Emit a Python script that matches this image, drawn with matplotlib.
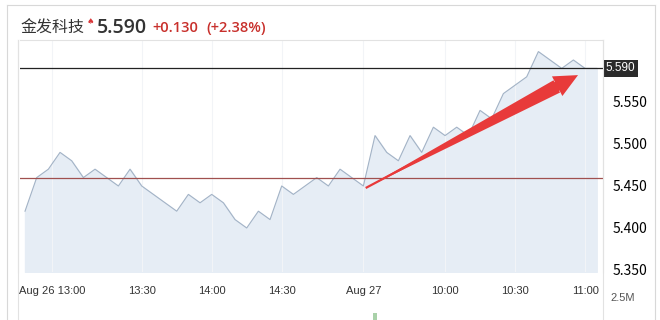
import numpy as np
import matplotlib.pyplot as plt
from matplotlib.lines import Line2D

plt.rcParams['font.family'] = ['Noto Sans CJK SC', 'DejaVu Sans']

# 5-minute prices, Aug 26 afternoon + Aug 27 morning
prices = [5.42, 5.46, 5.47, 5.49, 5.48, 5.46, 5.47, 5.46, 5.45, 5.47,
          5.45, 5.44, 5.43, 5.42, 5.44, 5.43, 5.44, 5.43, 5.41, 5.40,
          5.42, 5.41, 5.45, 5.44, 5.45, 5.46, 5.45, 5.47, 5.46, 5.45,
          5.51, 5.49, 5.48, 5.51, 5.49, 5.52, 5.51, 5.52, 5.51, 5.54,
          5.53, 5.56, 5.57, 5.58, 5.61, 5.60, 5.59, 5.60, 5.59, 5.59]
last_price = 5.590
prev_close = 5.460
tick_pos = [2.3, 10, 16, 22, 29, 36, 42, 48]
tick_labels = ['Aug 26 13:00', '13:30', '14:00', '14:30', 'Aug 27', '10:00', '10:30', '11:00']
y_ticks = [5.350, 5.400, 5.450, 5.500, 5.550]
vol_idx = [30]
vol_vals = [0.35]
arrow_start = (29.2, 5.4476)
arrow_end = (47.4, 5.582)

x = np.arange(len(prices))

fig = plt.figure(figsize=(6.6, 3.2), dpi=100)
W, H = 660, 320

ax = fig.add_axes([20 / W, 1 - 272 / H, 583 / W, 232 / H])
ax.set_xlim(-0.43, len(prices) - 1 + 0.54)
ax.set_ylim(5.3476, 5.6238)

ax.fill_between(x, prices, 5.3476, color='#e6edf5', zorder=1)
ax.plot(x, prices, color='#a3b3c6', lw=0.8, zorder=2)
ax.axhline(last_price, color='#222222', lw=0.9, zorder=3)
ax.axhline(prev_close, color='#a0504f', lw=0.9, zorder=3)

# tapered red arrow: thin line + wedge body + head
red = '#e83a3a'
sx, sy = arrow_start
ex, ey = arrow_end
hx, hy = ex - 0.1 * (ex - sx), ey - 0.1 * (ey - sy)
ax.plot([sx, hx], [sy, hy], color=red, lw=1.6, solid_capstyle='butt', zorder=5)
ax.annotate('', xy=(sx, sy), xytext=(hx, hy),
            arrowprops=dict(arrowstyle='wedge,tail_width=1.0,shrink_factor=0.5',
                            color=red, lw=0, shrinkA=0, shrinkB=0), zorder=5)
ax.annotate('', xy=(ex, ey), xytext=(hx + 0.3 * (hx - ex), hy + 0.3 * (hy - ey)),
            arrowprops=dict(arrowstyle='simple,head_length=0.85,head_width=0.8,tail_width=0.35',
                            mutation_scale=20, color=red, lw=0,
                            shrinkA=0, shrinkB=0), zorder=5)

ax.set_xticks(tick_pos)
ax.set_xticklabels(tick_labels, fontsize=8, color='#333333', family='Liberation Sans')
ax.tick_params(axis='x', length=0, pad=10)
ax.set_yticks(y_ticks)
ax.set_yticklabels(['%.3f' % v for v in y_ticks], fontsize=8.5, color='#555555',
                   family='Liberation Sans')
ax.yaxis.tick_right()
ax.tick_params(axis='y', length=0, pad=7)
ax.grid(axis='x', color='#f2f4f7', lw=0.8)
ax.spines['bottom'].set_visible(False)
for s in ['top', 'left', 'right']:
    ax.spines[s].set_color('#e2e2e2')
    ax.spines[s].set_linewidth(0.8)
ax.spines['left'].set_position(('axes', -0.003))

ax.annotate('%.3f' % last_price, xy=(1.0, last_price), xycoords=ax.get_yaxis_transform(),
            xytext=(2, 0), textcoords='offset points',
            fontsize=8.5, color='white', va='center', ha='left', family='Liberation Sans',
            bbox=dict(boxstyle='square,pad=0.2', fc='#2b2b2b', ec='none'), zorder=6)

# volume strip
vax = fig.add_axes([20 / W, 0, 583 / W, 22 / H])
vax.set_xlim(ax.get_xlim())
vax.set_ylim(0, 1.15)
vax.bar(vol_idx, vol_vals, width=0.3, color='#a9d1a9')
vax.set_xticks([])
vax.set_yticks([])
for s in vax.spines.values():
    s.set_visible(False)
fig.text(610 / W, 1 - 298 / H, '2.5M', fontsize=8, color='#555555', va='center',
         family='Liberation Sans')

# panel borders
for xp in [18, 603]:
    fig.add_artist(Line2D([xp / W, xp / W], [0, 1 - 40 / H], color='#e2e2e2', lw=0.8))
fig.add_artist(Line2D([7 / W, 7 / W], [0, 1 - 5 / H], color='#d8d8d8', lw=0.8))
fig.add_artist(Line2D([655 / W, 655 / W], [0, 1 - 5 / H], color='#d8d8d8', lw=0.8))
fig.add_artist(Line2D([7 / W, 655 / W], [1 - 5 / H, 1 - 5 / H], color='#d8d8d8', lw=0.8))

# header
ty = 1 - 28 / H
fig.text(20 / W, ty, '金发科技', fontsize=11.5, color='#333333', va='center')
fig.text(87 / W, 1 - 21 / H, '♠', fontsize=6, color='#d9383a', va='center',
         family='DejaVu Sans')
fig.text(97 / W, ty, '%.3f' % last_price, fontsize=14, color='#333333', va='center',
         family='Open Sans', fontweight='semibold')
fig.text(152 / W, ty, '+0.130', fontsize=10.5, color='#c8302c', va='center',
         family='Open Sans', fontweight='semibold')
fig.text(206 / W, ty, '(+2.38%)', fontsize=10.5, color='#c8302c', va='center',
         family='Open Sans', fontweight='semibold')

fig.savefig('out.png', dpi=100)
